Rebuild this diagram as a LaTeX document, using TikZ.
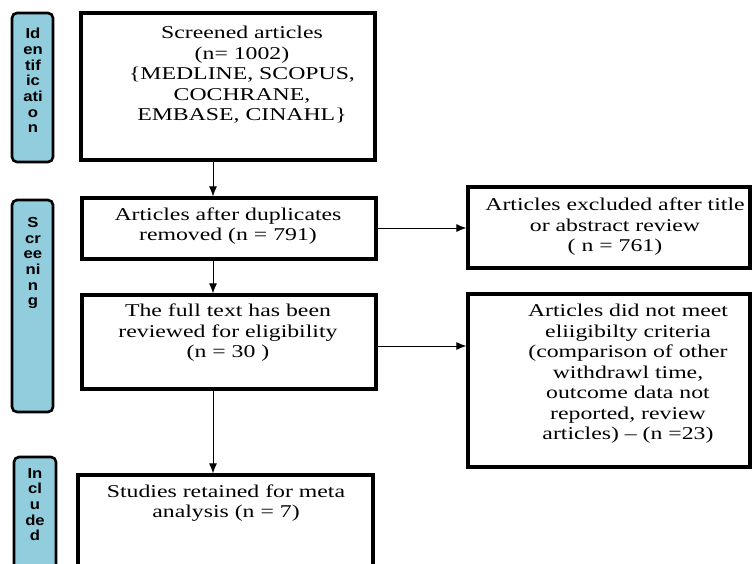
\documentclass[tikz,border=0pt]{standalone}
\usepackage{fontspec}
\setmainfont{Liberation Serif}
\newfontfamily\boxfont{Liberation Serif}[FakeStretch=1.32]
\newfontfamily\barfont{Liberation Sans}[FakeStretch=1.15]
\usetikzlibrary{arrows.meta}
\definecolor{barblue}{RGB}{146,205,221}
\begin{document}
\begin{tikzpicture}[x=1pt,y=-1pt,
  box/.style={draw=black, line width=3.2pt, fill=white, inner sep=0pt},
  bar/.style={draw=black, line width=2.6pt, fill=barblue, rounded corners=5pt, inner sep=0pt},
  boxtext/.style={font=\boxfont\fontsize{18}{20.5}\selectfont, align=center, inner sep=0pt, text=black},
  bartext/.style={font=\barfont\bfseries\fontsize{14.5}{15.7}\selectfont, align=center, inner sep=0pt, anchor=north},
  arr/.style={-{Latex[length=10pt,width=8pt]}, line width=1pt}]
\clip (0,0) rectangle (752,564);
\fill[white] (0,0) rectangle (752,564);

% side bars
\node[bar, minimum width=41pt, minimum height=149pt] (barI) at (32.5,87.5) {};
\node[bar, minimum width=41pt, minimum height=212pt] (barS) at (32.5,306) {};
\node[bar, minimum width=42pt, minimum height=160pt] (barN) at (35,537) {};
\node[bartext] (lI) at (33,28) {Id\\en\\tif\\ic\\ati\\o\\n};
\node[bartext] (lS) at (33,217) {S\\cr\\ee\\ni\\n\\g};
\node[bartext] (lN) at (35,468) {In\\cl\\u\\de\\d};

% boxes
\node[box, minimum width=294pt, minimum height=147pt] (b1) at (228,86.5) {};
\node[box, minimum width=294pt, minimum height=61pt] (b2) at (229,228.5) {};
\node[box, minimum width=294pt, minimum height=94pt] (b3) at (229,342) {};
\node[box, minimum width=282pt, minimum height=81pt] (b4) at (609,227.5) {};
\node[box, minimum width=282pt, minimum height=173pt] (b5) at (609,380.5) {};
\node[box, minimum width=295pt, minimum height=140pt] (b6) at (225.5,545) {};

% texts
\node[boxtext] (t1) at (242,75) {Screened articles\\(n= 1002)\\\{MEDLINE, SCOPUS,\\COCHRANE,\\EMBASE, CINAHL\}};
\node[boxtext] (t2) at (228,226) {Articles after duplicates\\removed (n = 791)};
\node[boxtext] (t3) at (228,333) {The full text has been\\reviewed for eligibility\\(n = 30 )};
\node[boxtext] (t4) at (615,227) {Articles excluded after title\\or abstract review\\( n = 761)};
\node[boxtext] (t5) at (628,374) {Articles did not meet\\eliigibilty criteria\\(comparison of other\\withdrawl time,\\outcome data not\\reported, review\\articles) – (n =23)};
\node[boxtext] (t6) at (226,503) {Studies retained for meta\\analysis (n = 7)};

% connectors
\coordinate (cx) at (213,0);
\draw[arr] (b1.south -| cx) -- (b2.north -| cx);
\draw[arr] (b2.south -| cx) -- (b3.north -| cx);
\draw[arr] (b3.south -| cx) -- (b6.north -| cx);
\coordinate (h1) at (0,228);
\coordinate (h2) at (0,346);
\draw[arr] (b2.east |- h1) -- (b4.west |- h1);
\draw[arr] (b3.east |- h2) -- (b5.west |- h2);
\end{tikzpicture}
\end{document}
